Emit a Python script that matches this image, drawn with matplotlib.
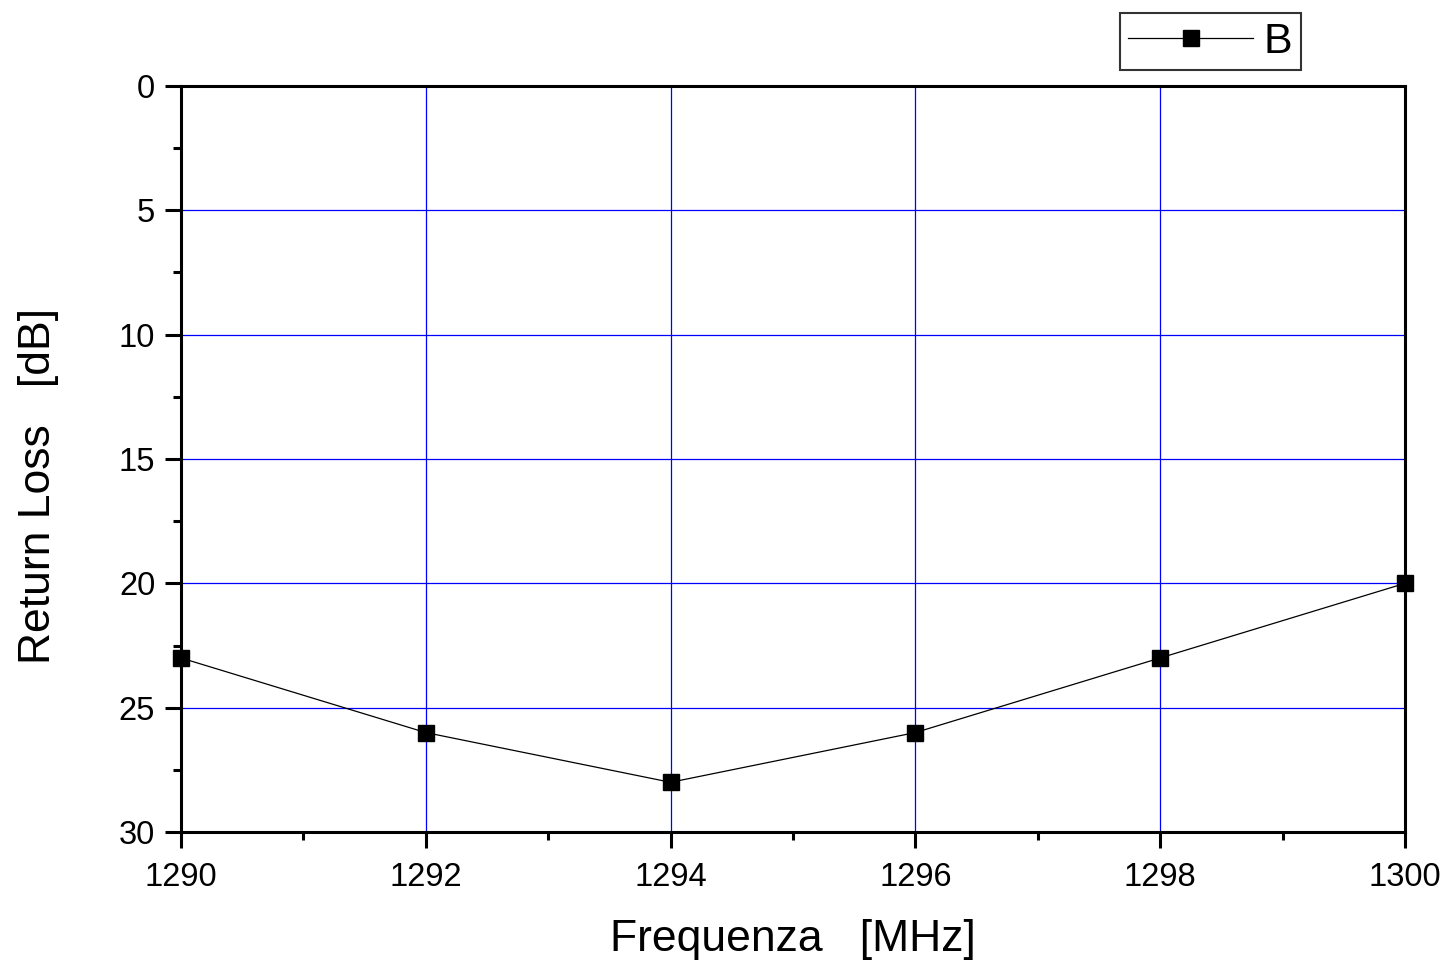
# Return loss vs frequency
import numpy as np
import matplotlib.pyplot as plt
from matplotlib.ticker import MultipleLocator

plt.rcParams['font.family'] = ['Liberation Sans', 'DejaVu Sans']

# Data
freq = [1290, 1292, 1294, 1296, 1298, 1300]
return_loss = [23, 26, 28, 26, 23, 20]

fig = plt.figure(figsize=(14.51, 9.64), dpi=100)
ax = fig.add_axes([0.1247, 0.1369, 0.8436, 0.7739])

line, = ax.plot(freq, return_loss, color='black', linewidth=0.9,
                marker='s', markersize=11, markerfacecolor='black',
                markeredgecolor='black', label='B', zorder=3, clip_on=False)

ax.set_xlim(1290, 1300)
ax.set_ylim(30, 0)
ax.xaxis.set_major_locator(MultipleLocator(2))
ax.xaxis.set_minor_locator(MultipleLocator(1))
ax.yaxis.set_major_locator(MultipleLocator(5))
ax.yaxis.set_minor_locator(MultipleLocator(2.5))

ax.grid(True, which='major', color='#0000ff', linewidth=0.9)
ax.set_axisbelow(True)

for s in ax.spines.values():
    s.set_linewidth(2.2)

ax.tick_params(which='major', direction='out', length=11.5, width=2.2,
               labelsize=23.5, pad=7)
ax.tick_params(axis='x', which='major', pad=10)
ax.tick_params(which='minor', direction='out', length=6, width=2.2)

ax.set_xlabel('Frequenza   [MHz]', fontsize=32, labelpad=19)
ax.set_ylabel('Return Loss   [dB]', fontsize=32)
ax.yaxis.set_label_coords(-0.1, 0.464)

leg = fig.legend(handles=[line], loc='upper right',
                 bbox_to_anchor=(1301 / 1451, 1 - 13 / 964),
                 fontsize=31, frameon=True, fancybox=False,
                 edgecolor='black', handlelength=2.9, borderpad=0.2,
                 handletextpad=0.25, borderaxespad=0)
leg.get_frame().set_linewidth(1.5)

fig.savefig('out.png', dpi=100)
